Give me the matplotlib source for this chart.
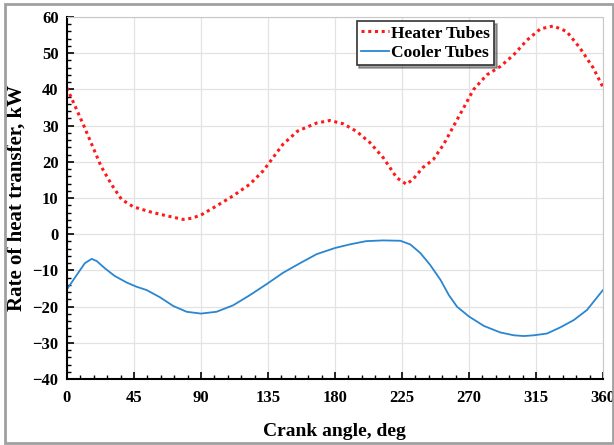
import matplotlib
matplotlib.use('Agg')
import matplotlib.pyplot as plt
from matplotlib.patches import Rectangle
from matplotlib.ticker import MultipleLocator

# values
heater_deg = [0, 11, 17.7, 23, 30, 36.7, 44.5, 55.7, 66.9, 78, 83.7, 90, 100.4, 111.6,
              122.8, 131.8, 136, 145, 155, 167.7, 176.6, 185.6, 194.5, 203.5, 212.5,
              221.5, 228, 232.5, 239, 246, 253, 259.6, 266.3, 273, 282, 291, 300, 309,
              318, 326.6, 335.6, 344.6, 353.5, 360]
heater_kw = [40.4, 30.3, 23.8, 18.7, 13.7, 9.6, 7.6, 6.2, 5.1, 4.1, 4.4, 5.3, 7.8, 10.6,
             13.8, 17.5, 19.8, 24.8, 28.5, 30.7, 31.4, 30.5, 28.4, 25.3, 21.1,
             15.6, 13.8, 15.2, 18.4, 20.6, 24.8, 29.8, 34.8, 39.9, 44.0, 46.3, 49.5, 53.6,
             56.7, 57.5, 56.0, 51.4, 45.9, 40.6]

cooler_deg = [0, 6.5, 12, 16.6, 20, 25.5, 32, 40, 46.8, 53.5, 62.5, 71.4, 80.4, 90, 100.5,
              111.7, 122.9, 134, 145.3, 156.5, 167.7, 180, 190, 201, 212.5, 223.9, 230.6,
              237.4, 244, 250.9, 256.5, 262, 270, 280, 291, 300.2, 306.8, 313.6, 322.5,
              331.4, 340.4, 349.3, 360]
cooler_kw = [-15.2, -11.3, -8.0, -6.8, -7.4, -9.4, -11.5, -13.3, -14.5, -15.4, -17.4, -19.8,
             -21.4, -21.9, -21.4, -19.6, -16.8, -13.8, -10.6, -8.0, -5.5, -3.8, -2.8, -1.9,
             -1.7, -1.8, -2.8, -5.2, -8.5, -12.6, -16.8, -20.0, -22.7, -25.3, -27.1, -27.9,
             -28.1, -27.9, -27.4, -25.7, -23.7, -20.9, -15.4]

plt.rcParams['font.family'] = ['Liberation Serif', 'DejaVu Serif']
plt.rcParams['font.weight'] = 'bold'

fig = plt.figure(figsize=(6.14, 4.45), dpi=100)
ax = fig.add_axes([0.109, 0.148, 0.873, 0.814])

# grey frame around the whole figure
fig.patches.append(Rectangle((0.008, 0.004), 0.99, 0.987, transform=fig.transFigure,
                             fill=False, edgecolor='#a0a0a0', linewidth=2))

ax.plot(heater_deg, heater_kw, color='#ff1a1a', linestyle=(0, (1, 1.2)), linewidth=2.2,
        label='Heater Tubes')
ax.plot(cooler_deg, cooler_kw, color='#2a86d0', linewidth=1.3, label='Cooler Tubes')

ax.set_xlim(0, 360)
ax.set_ylim(-40, 60)
ax.xaxis.set_major_locator(MultipleLocator(45))
ax.xaxis.set_minor_locator(MultipleLocator(9))
ax.yaxis.set_major_locator(MultipleLocator(10))
ax.yaxis.set_minor_locator(MultipleLocator(2))
ax.tick_params(which='major', direction='in', length=5, width=1.2, labelsize=12, pad=8)
ax.tick_params(which='minor', direction='in', length=3, width=1.0)
ax.tick_params(axis='y', pad=6)
ax.grid(True, which='major', color='#e3e3e3', linewidth=0.9)
ax.set_axisbelow(True)

for s in ['top', 'right']:
    ax.spines[s].set_color('#c8c8c8')
for s in ['left', 'bottom']:
    ax.spines[s].set_linewidth(1.5)

ax.set_xlabel('Crank angle, deg', fontsize=14, fontweight='bold', labelpad=12)
ax.set_ylabel('Rate of heat transfer, kW', fontsize=15, fontweight='bold', labelpad=4)

leg = ax.legend(loc='upper right', bbox_to_anchor=(0.806, 1.003), fancybox=False, shadow=True,
                edgecolor='#333333', framealpha=1, handlelength=1.6, handletextpad=0.1,
                borderpad=0.25, labelspacing=0.2, borderaxespad=0.3,
                prop={'size': 12.5, 'weight': 'bold'})
leg.get_frame().set_linewidth(1.2)

fig.savefig('out.png', dpi=100)
